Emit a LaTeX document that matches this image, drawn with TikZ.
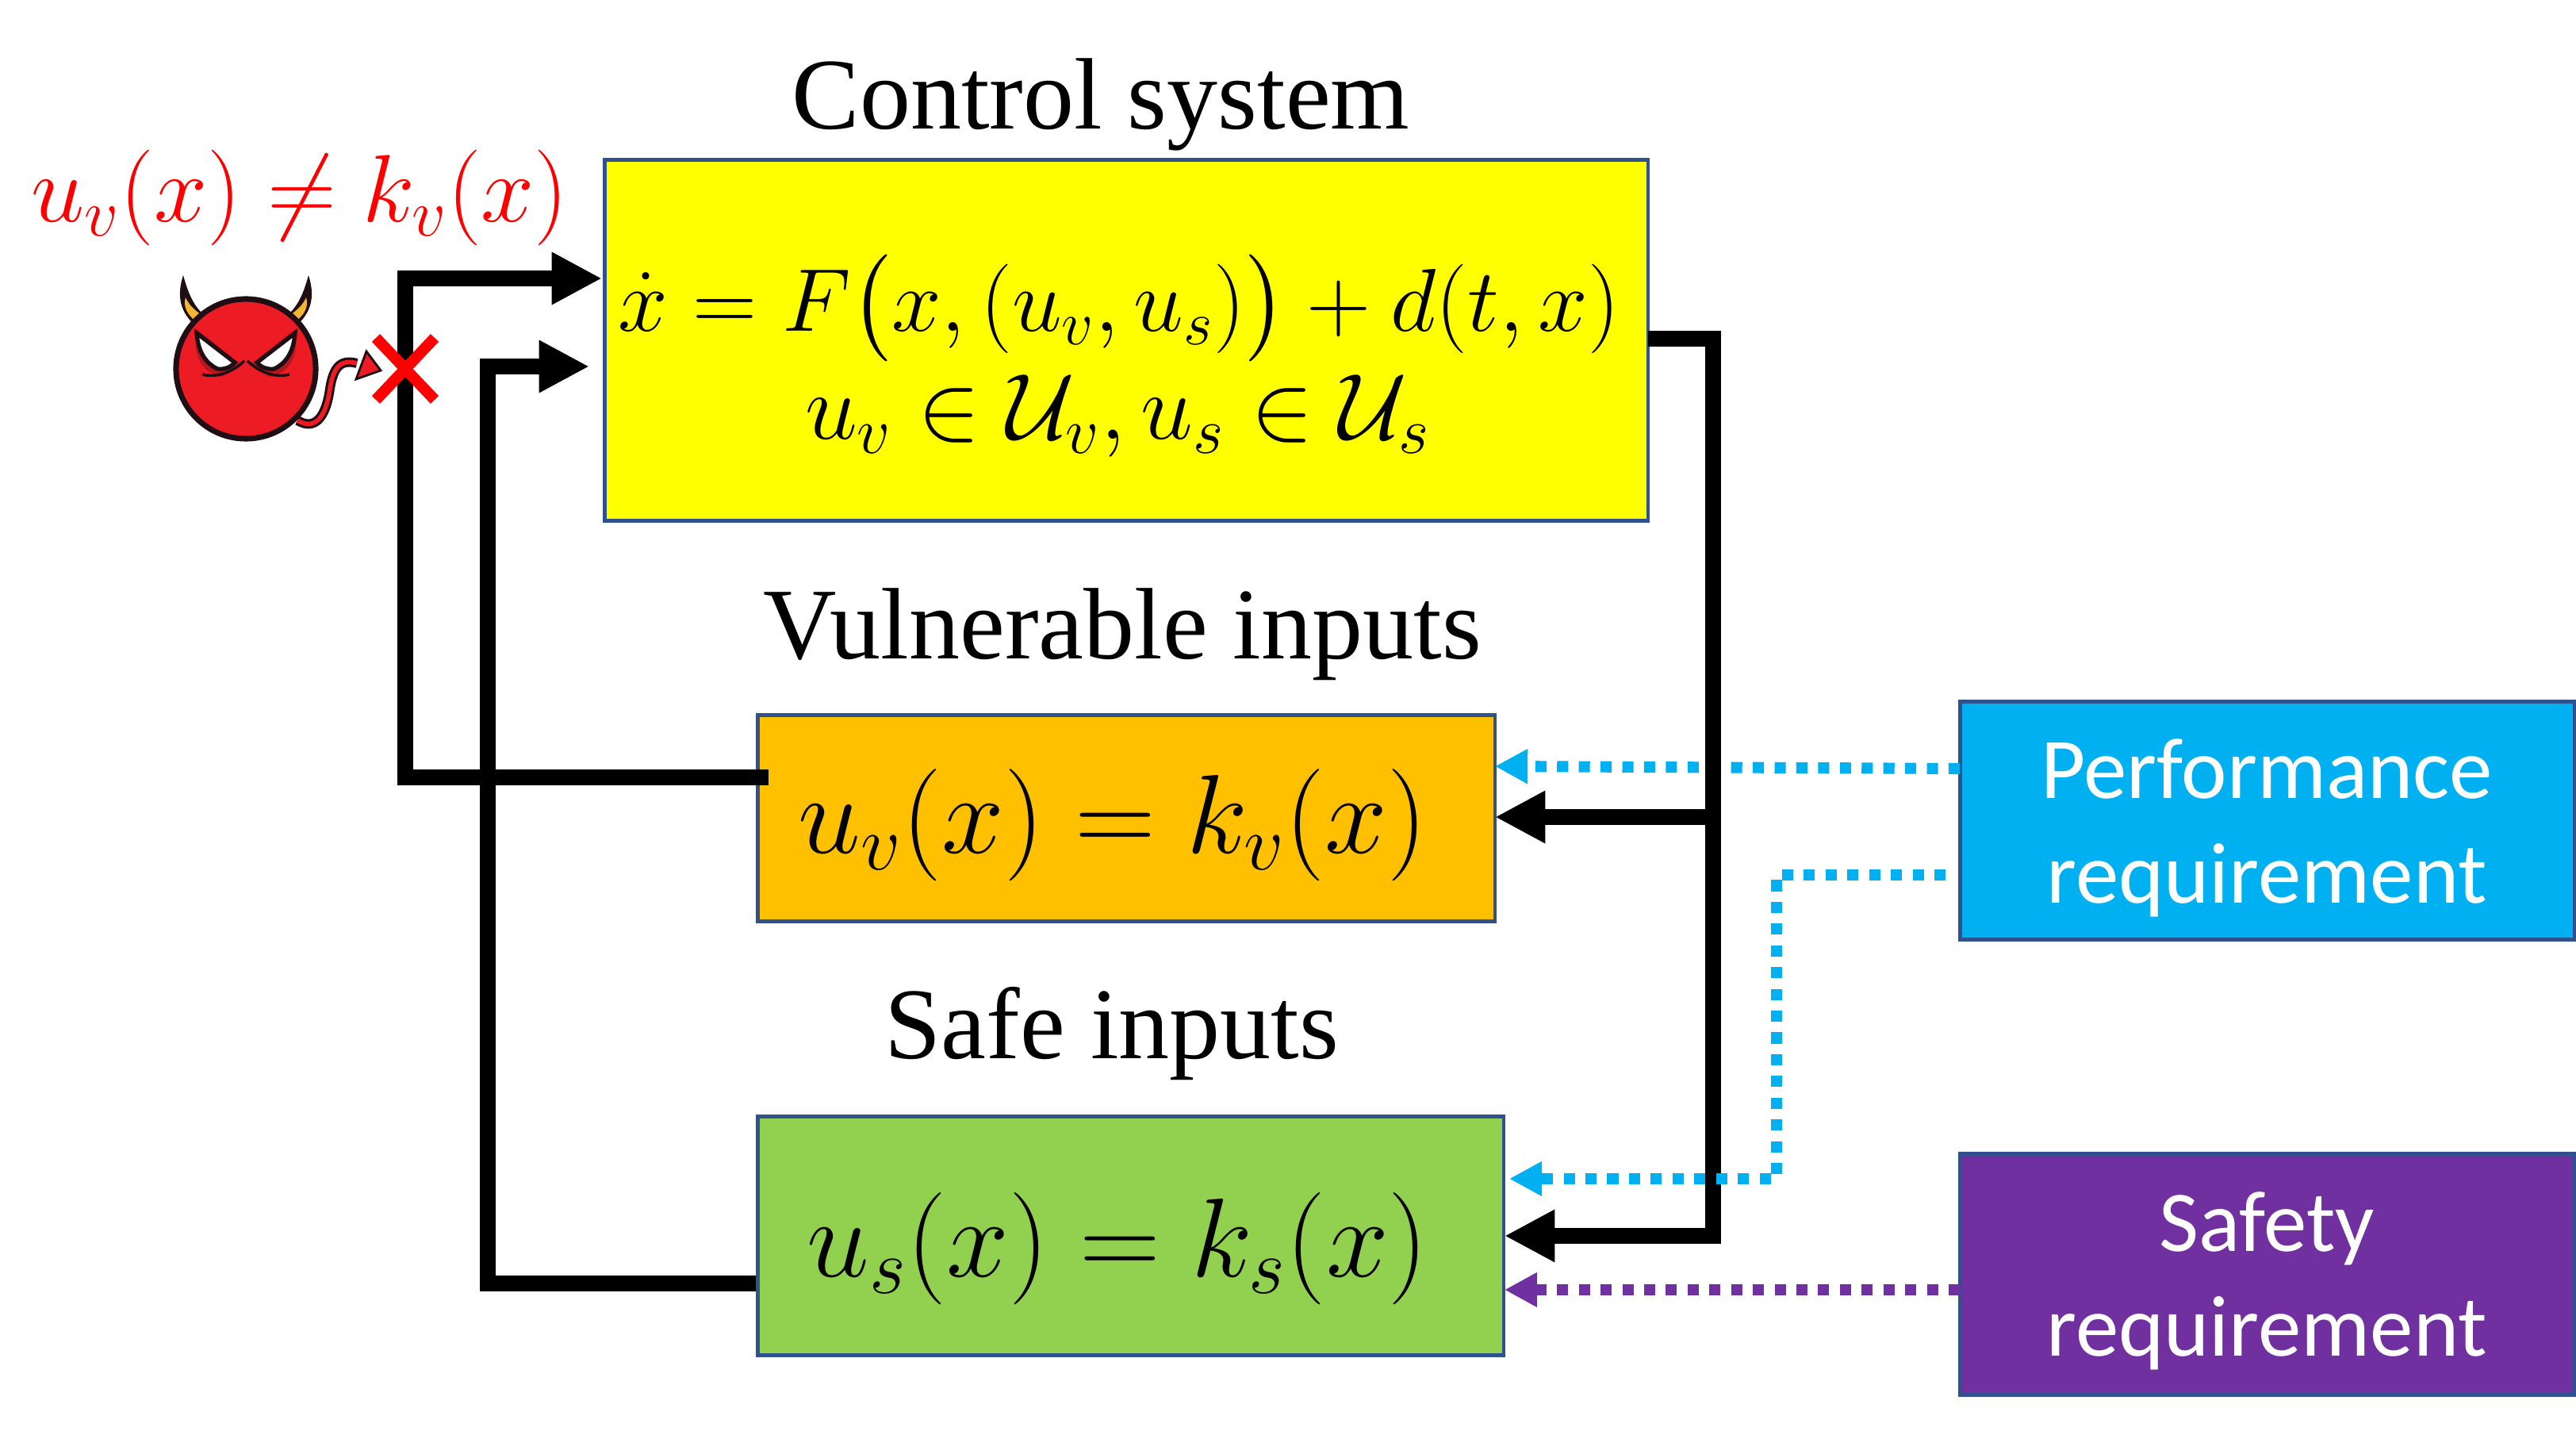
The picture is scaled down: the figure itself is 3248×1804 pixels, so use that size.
\documentclass[tikz,border=0pt]{standalone}
\usepackage{fix-cm}
\usepackage{amssymb}
\usepackage{amsmath}
\usepackage{fontspec}
\setmainfont{Liberation Serif}
\newfontfamily\calibrifont{Carlito}
\usetikzlibrary{arrows.meta}
\definecolor{boxline}{HTML}{2F528F}
\definecolor{sysfill}{HTML}{FFFF00}
\definecolor{vulnfill}{HTML}{FFC000}
\definecolor{safefill}{HTML}{92D050}
\definecolor{perffill}{HTML}{00B0F0}
\definecolor{safetyfill}{HTML}{7030A0}
\definecolor{devilred}{HTML}{ED1C24}
\definecolor{devildark}{HTML}{1F0F14}
\definecolor{devilshade}{HTML}{B5171F}
\definecolor{hornyellow}{HTML}{F2B632}
\tikzset{
  box/.style={draw=boxline,line width=1.3pt,inner sep=0pt,anchor=north west},
  title/.style={font=\fontsize{36.4}{40}\selectfont},
  eqn/.style={font=\fontsize{32}{38}\selectfont},
  roweqn/.style={font=\fontsize{33.6}{40}\selectfont},
  attackeqn/.style={font=\fontsize{34.3}{40}\selectfont,text=red},
  bigeqn/.style={font=\fontsize{40.2}{46}\selectfont},
  reqtext/.style={text=white,align=center,font=\calibrifont\fontsize{31}{37.6}\selectfont},
  wire/.style={line width=5.7pt,-{Triangle[length=18pt,width=17.6pt]},miter limit=10},
  perfline/.style={perffill,line width=4pt,dash pattern=on 4pt off 3.8pt,-{Triangle[length=11.7pt,width=11.7pt]}},
  safetyline/.style={safetyfill,line width=4pt,dash pattern=on 4pt off 3.8pt,-{Triangle[length=11.7pt,width=11.7pt]}}
}
\begin{document}
\begin{tikzpicture}[x=0.01cm,y=-0.01cm]
\useasboundingbox (0,0) rectangle (3248,1804);
\node[box,fill=sysfill,minimum width=13.15cm,minimum height=4.55cm] (sys) at (760,199) {};
\node[box,fill=vulnfill,minimum width=9.29cm,minimum height=2.60cm] (vuln) at (953,899) {};
\node[box,fill=safefill,minimum width=9.40cm,minimum height=3.01cm] (safe) at (953,1405) {};
\node[box,fill=perffill,minimum width=7.75cm,minimum height=3.00cm] (perf) at (2469,882) {};
\node[box,fill=safetyfill,minimum width=7.75cm,minimum height=3.04cm] (safety) at (2469,1452) {};

\node[title] (systitle) at (1388,132) {Control system};
\node[title] (vulntitle) at (1415,800) {Vulnerable inputs};
\node[title] (safetitle) at (1402,1303) {Safe inputs};
\node[eqn] (sysrowa) at (1411,389) {$\dot{x}=F\bigl(x,(u_v,u_s)\bigr)+d(t,x)$};
\node[roweqn] (sysrowb) at (1409,525) {$u_v\in\mathcal{U}_v,u_s\in\mathcal{U}_s$};
\node[bigeqn] (vulneq) at (1403,1040) {$u_v(x)=k_v(x)$};
\node[bigeqn] (safeeq) at (1409,1574) {$u_s(x)=k_s(x)$};
\node[attackeqn] (attack) at (378,249) {$u_v(x)\neq k_v(x)$};
\node[reqtext] (perftext) at (2858,1044) {Performance\\requirement};
\node[reqtext] (safetytext) at (2858,1615) {Safety\\requirement};

\coordinate (vulnin) at (1885,1030);
\coordinate (vulndot) at (1885,966);
\coordinate (safein) at (1897,1558);
\coordinate (safedot) at (1903,1486);
\coordinate (safepur) at (1897,1626);
\coordinate (sysout) at (2078,427);
\coordinate (syspa) at (759,351);
\coordinate (syspb) at (743,462);
\coordinate (vulnout) at (969,980);
\coordinate (safeout) at (953,1618);
\coordinate (perfa) at (2471,969);
\coordinate (perfb) at (2453,1103);
\coordinate (safetyout) at (2471,1626);

\draw[perfline] (perfa) -- (vulndot);
\draw[wire] (safeout) -| (615,462) -- (syspb);
\draw[wire] (vulnout) -| (511,351) -- (syspa);
\draw[wire] (sysout) -- (2160,427) |- (safein);
\draw[wire] (2160,1030) -- (vulnin);
\draw[perfline] (perfb) -| (2240,1486) -- (safedot);
\draw[safetyline] (safetyout) -- (safepur);

% devil
\draw[devildark,line width=3.4pt] (375,530) .. controls (400,545) and (412,520) .. (416,490) .. controls (420,465) and (428,452) .. (450,458);
\draw[devilred,line width=1.6pt] (375,530) .. controls (400,545) and (412,520) .. (416,490) .. controls (420,465) and (428,452) .. (450,458);
\fill[devilred,draw=devildark,line width=0.8pt] (462,443) -- (480,467) -- (449,478) -- cycle;
\foreach \s in {1,-1}{
\begin{scope}[shift={(310,0)},xscale=\s]
\fill[devildark] (-79,347) .. controls (-88,375) and (-82,395) .. (-62,412) -- (-52,398) .. controls (-66,385) and (-72,372) .. cycle;
\fill[hornyellow] (-76,375) .. controls (-80,388) and (-72,398) .. (-63,405) -- (-56,397) .. controls (-66,390) and (-72,384) .. cycle;
\end{scope}
}
\node[circle,draw=devildark,fill=devilred,line width=2pt,minimum size=1.76cm,inner sep=0pt] (devil) at (310,465) {};
\foreach \s in {1,-1}{
\begin{scope}[shift={(310,0)},xscale=\s]
\fill[devilshade] (-62,415) -- (-8,458) -- (-30,475) .. controls (-55,470) and (-68,450) .. cycle;
\fill[white,draw=devildark,line width=1.5pt] (-62,420) -- (-14,457) .. controls (-20,464) and (-28,466) .. (-36,465) .. controls (-50,458) and (-60,445) .. cycle;
\draw[devildark,line width=1pt] (-55,472) .. controls (-40,476) and (-20,472) .. (-2,455);
\end{scope}
}
\draw[red,line width=4pt] (474,426) -- (548,504) (548,426) -- (474,504);
\end{tikzpicture}
\end{document}
